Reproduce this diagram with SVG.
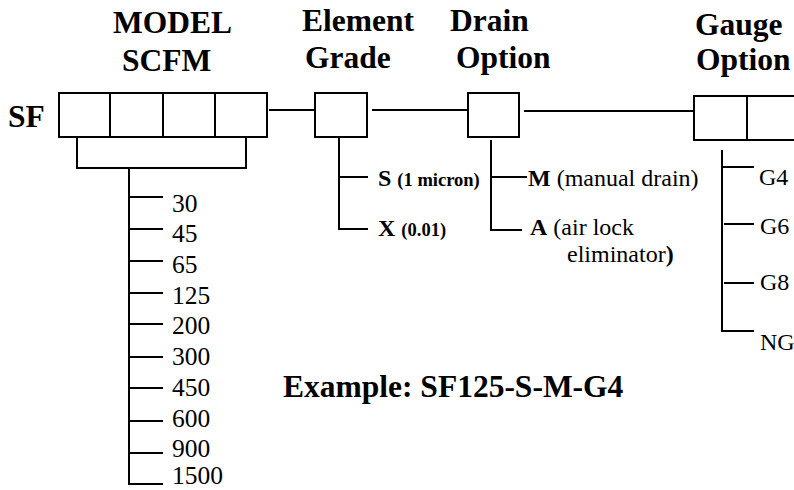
<svg xmlns="http://www.w3.org/2000/svg" width="794" height="490" viewBox="0 0 794 490">
<style>
.ln{stroke:#000;stroke-width:2;fill:none}
.bx{stroke:#000;stroke-width:2;fill:#fff}
.t{font-family:"Liberation Serif","Times New Roman",serif;fill:#000}
.h{font-size:31.5px;font-weight:bold}
.n{font-size:25.5px}
.o{font-size:24px}
.b{font-weight:bold}
.s{font-size:18.5px;font-weight:bold}
</style>
<rect width="794" height="490" fill="#fff"/>
<g id="titles">
<text class="t h" x="113" y="33">MODEL</text>
<text class="t h" x="122" y="71">SCFM</text>
<text class="t h" x="302" y="31">Element</text>
<text class="t h" x="305" y="68">Grade</text>
<text class="t h" x="450" y="31">Drain</text>
<text class="t h" x="456" y="68">Option</text>
<text class="t h" x="695" y="35">Gauge</text>
<text class="t h" x="696" y="70">Option</text>
<text class="t h" x="8" y="127">SF</text>
</g>
<g id="model-node">
<rect class="bx" x="59" y="93" width="208" height="44"/>
<line class="ln" x1="110" y1="93" x2="110" y2="137"/>
<line class="ln" x1="163" y1="93" x2="163" y2="137"/>
<line class="ln" x1="215" y1="93" x2="215" y2="137"/>
</g>
<g id="element-node">
<rect class="bx" x="315" y="93" width="52" height="44"/>
</g>
<g id="drain-node">
<rect class="bx" x="468" y="93" width="51" height="44"/>
</g>
<g id="gauge-node">
<rect class="bx" x="694" y="96" width="110" height="44"/>
<line class="ln" x1="747" y1="96" x2="747" y2="140"/>
</g>
<g id="connectors">
<line class="ln" x1="269" y1="110" x2="315" y2="110"/>
<line class="ln" x1="372" y1="110" x2="468" y2="110"/>
<line class="ln" x1="524" y1="111" x2="694" y2="111"/>
<polyline class="ln" points="77,137 77,168 246,168 246,137"/>
<polyline class="ln" points="129,168 129,484 163,484"/>
<line class="ln" x1="129" y1="197" x2="163" y2="197"/>
<line class="ln" x1="129" y1="229" x2="163" y2="229"/>
<line class="ln" x1="129" y1="261" x2="163" y2="261"/>
<line class="ln" x1="129" y1="293" x2="163" y2="293"/>
<line class="ln" x1="129" y1="324" x2="163" y2="324"/>
<line class="ln" x1="129" y1="357" x2="163" y2="357"/>
<line class="ln" x1="129" y1="388" x2="163" y2="388"/>
<line class="ln" x1="129" y1="421" x2="163" y2="421"/>
<line class="ln" x1="129" y1="453" x2="163" y2="453"/>
<polyline class="ln" points="339,137 339,229 368,229"/>
<line class="ln" x1="339" y1="177" x2="368" y2="177"/>
<polyline class="ln" points="491,140 491,230 522,230"/>
<line class="ln" x1="491" y1="177" x2="527" y2="177"/>
<polyline class="ln" points="722,150 722,331 754,331"/>
<line class="ln" x1="722" y1="167" x2="754" y2="167"/>
<line class="ln" x1="724" y1="224" x2="754" y2="224"/>
<line class="ln" x1="724" y1="283" x2="754" y2="283"/>
</g>
<g id="model-labels">
<text class="t n" x="172" y="212">30</text>
<text class="t n" x="172" y="242">45</text>
<text class="t n" x="172" y="273">65</text>
<text class="t n" x="172" y="304">125</text>
<text class="t n" x="172" y="334">200</text>
<text class="t n" x="172" y="365">300</text>
<text class="t n" x="172" y="396">450</text>
<text class="t n" x="172" y="427">600</text>
<text class="t n" x="172" y="457">900</text>
<text class="t n" x="172" y="484">1500</text>
</g>
<g id="element-labels">
<text class="t o b" x="378" y="186">S <tspan class="s">(1 micron)</tspan></text>
<text class="t o b" x="378" y="236">X <tspan class="s">(0.01)</tspan></text>
</g>
<g id="drain-labels">
<text class="t o" x="528" y="186"><tspan class="b">M</tspan> (manual drain)</text>
<text class="t o" x="530" y="235"><tspan class="b">A</tspan> (air lock</text>
<text class="t o" x="567" y="262">eliminator<tspan class="b">)</tspan></text>
</g>
<g id="gauge-labels">
<text class="t o" x="759" y="185">G4</text>
<text class="t o" x="760" y="234">G6</text>
<text class="t o" x="760" y="290">G8</text>
<text class="t o" x="760" y="350">NG</text>
</g>
<text class="t h" x="283" y="397">Example: SF125-S-M-G4</text>
</svg>
